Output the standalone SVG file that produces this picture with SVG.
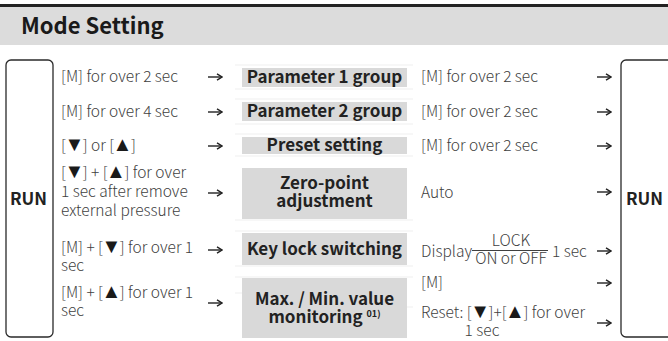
<svg xmlns="http://www.w3.org/2000/svg" width="668" height="341" viewBox="0 0 668 341">
<defs>
<marker id="ah" viewBox="0 0 8 8" refX="7" refY="4" markerWidth="8" markerHeight="8" markerUnits="userSpaceOnUse" orient="auto">
<path d="M2,0.8 L7,4 L2,7.2" fill="none" stroke="#222" stroke-width="1.4"/>
</marker>
</defs>
<style>
text{font-family:"Noto Sans CJK KR","Noto Sans",sans-serif}
.t{font-size:22px;font-weight:700;fill:#1a1a1a}
.b{font-size:17px;font-weight:700;fill:#222;text-anchor:middle}
.r{font-size:15.5px;font-weight:300;fill:#404040}
.run{font-size:17px;font-weight:700;fill:#222}
.tri{font-family:"DejaVu Sans",sans-serif;font-size:20px;fill:#1a1a1a}
.box{fill:#d9d9d9}
.rb{fill:#fff;stroke:#2a2a2a;stroke-width:1.3}
.fl{stroke:#efefef;stroke-width:1}
.ar{stroke:#222;stroke-width:1.4;marker-end:url(#ah)}
</style>
<rect x="0" y="4" width="668" height="3" fill="#222"/>
<rect x="0" y="7" width="668" height="38" fill="#dcdcdc"/>
<text class="t" x="21" y="34">Mode Setting</text>

<g id="faint-lines">
<path class="fl" d="M235,65H413M235,89H413M235,99H413M235,124H413M235,134H413M235,156H413M235,220H413M235,231H413M235,266H413M235,277H413M235,293H242M407,307H413"/>
</g>

<g id="run-left">
<rect class="rb" x="6" y="60" width="47" height="277" rx="5"/>
<text class="run" x="10" y="205">RUN</text>
</g>
<g id="run-right">
<rect class="rb" x="621" y="60" width="60" height="277" rx="5"/>
<text class="run" x="626" y="205">RUN</text>
</g>

<g id="param1"><rect class="box" x="242" y="68" width="165" height="19"/><text class="b" x="324.5" y="83">Parameter 1 group</text></g>
<g id="param2"><rect class="box" x="242" y="102" width="165" height="19"/><text class="b" x="324.5" y="117">Parameter 2 group</text></g>
<g id="preset"><rect class="box" x="242" y="137" width="165" height="17"/><text class="b" x="324.5" y="151">Preset setting</text></g>
<g id="zero"><rect class="box" x="242" y="168" width="165" height="51"/><text class="b" x="324.5" y="189">Zero-point</text><text class="b" x="324.5" y="207">adjustment</text></g>
<g id="keylock"><rect class="box" x="242" y="233" width="165" height="32"/><text class="b" x="324.5" y="255">Key lock switching</text></g>
<g id="maxmin"><rect class="box" x="242" y="278" width="165" height="60"/><text class="b" x="324.5" y="305">Max. / Min. value</text><text class="b" x="324.5" y="323">monitoring <tspan font-size="9" dy="-6">01)</tspan></text></g>

<g id="left-labels">
<text class="r" x="61" y="82">[M] for over 2 sec</text>
<text class="r" x="61" y="117">[M] for over 4 sec</text>
<text class="r" x="61" y="151">[<tspan class="tri" dx="-1.5">▼</tspan><tspan dx="-1.5">] or [</tspan><tspan class="tri" dx="-1.5">▲</tspan><tspan dx="-1.5">]</tspan></text>
<text class="r" x="61" y="178">[<tspan class="tri" dx="-1.5">▼</tspan><tspan dx="-1.5">] + [</tspan><tspan class="tri" dx="-1.5">▲</tspan><tspan dx="-1.5">] for over</tspan></text>
<text class="r" x="61" y="197">1 sec after remove</text>
<text class="r" x="61" y="216">external pressure</text>
<text class="r" x="61" y="253">[M] + [<tspan class="tri" dx="-1.5">▼</tspan><tspan dx="-1.5">] for over 1</tspan></text>
<text class="r" x="61" y="271">sec</text>
<text class="r" x="61" y="298">[M] + [<tspan class="tri" dx="-1.5">▲</tspan><tspan dx="-1.5">] for over 1</tspan></text>
<text class="r" x="61" y="316">sec</text>
</g>

<g id="right-labels">
<text class="r" x="421" y="82">[M] for over 2 sec</text>
<text class="r" x="421" y="117">[M] for over 2 sec</text>
<text class="r" x="421" y="151">[M] for over 2 sec</text>
<text class="r" x="421" y="198">Auto</text>
<text class="r" x="421" y="257">Display</text>
<text class="r" x="511" y="246" text-anchor="middle">LOCK</text>
<line x1="472" y1="250.5" x2="548" y2="250.5" stroke="#404040" stroke-width="1"/>
<text class="r" x="511" y="264" text-anchor="middle">ON or OFF</text>
<text class="r" x="552" y="257">1 sec</text>
<text class="r" x="421" y="288">[M]</text>
<text class="r" x="421" y="318">Reset: [<tspan class="tri" dx="-1.5">▼</tspan><tspan dx="-1.5">]+[</tspan><tspan class="tri" dx="-1.5">▲</tspan><tspan dx="-1.5">] for over</tspan></text>
<text class="r" x="482" y="336" text-anchor="middle">1 sec</text>
</g>

<g id="connectors">
<line class="ar" x1="208" y1="77" x2="222" y2="77"/>
<line class="ar" x1="208" y1="112" x2="222" y2="112"/>
<line class="ar" x1="208" y1="146" x2="222" y2="146"/>
<line class="ar" x1="208" y1="193" x2="222" y2="193"/>
<line class="ar" x1="208" y1="250" x2="222" y2="250"/>
<line class="ar" x1="208" y1="303" x2="222" y2="303"/>
<line class="ar" x1="597" y1="77" x2="611" y2="77"/>
<line class="ar" x1="597" y1="112" x2="611" y2="112"/>
<line class="ar" x1="597" y1="146" x2="611" y2="146"/>
<line class="ar" x1="597" y1="192" x2="611" y2="192"/>
<line class="ar" x1="597" y1="251" x2="611" y2="251"/>
<line class="ar" x1="597" y1="283" x2="611" y2="283"/>
<line class="ar" x1="597" y1="323" x2="611" y2="323"/>
</g>
</svg>
